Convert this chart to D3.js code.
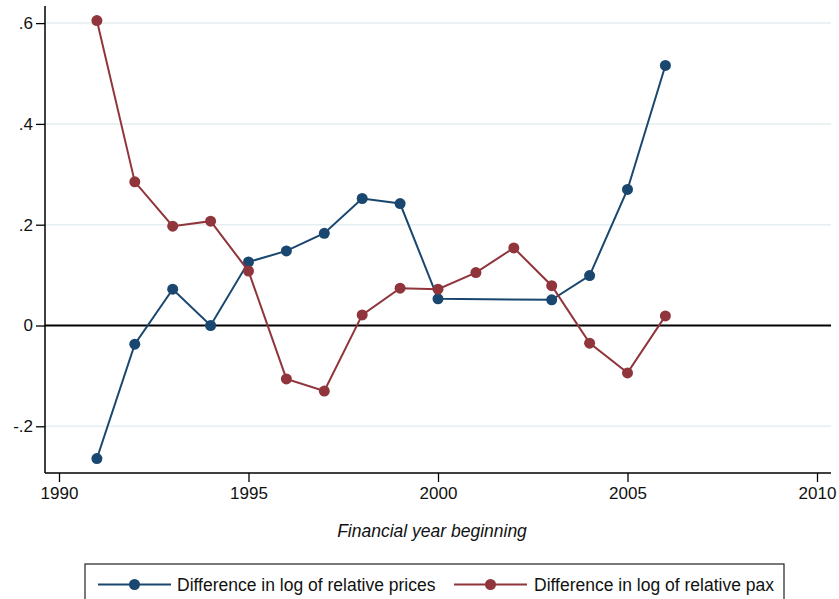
<!DOCTYPE html>
<html>
<head>
<meta charset="utf-8">
<script src="https://cdn.jsdelivr.net/npm/d3@7"></script>
<style>
  html, body { margin: 0; padding: 0; background: #fff; }
  svg { display: block; font-family: Arial, "Liberation Sans", sans-serif; }
</style>
</head>
<body>
<svg id="chart" width="839" height="599"></svg>
<script>
// Financial years and the two series (null = no observation)
const years = [1991, 1992, 1993, 1994, 1995, 1996, 1997, 1998, 1999, 2000, 2001, 2002, 2003, 2004, 2005, 2006];
const priceDiff = [-0.264, -0.037, 0.072, 0.000, 0.126, 0.148, 0.183, 0.252, 0.242, 0.053, null, null, 0.051, 0.099, 0.270, 0.516];
const paxDiff = [0.605, 0.285, 0.197, 0.207, 0.108, -0.106, -0.130, 0.021, 0.074, 0.072, 0.105, 0.154, 0.079, -0.035, -0.094, 0.019];

const xTicks = [1990, 1995, 2000, 2005, 2010];
const yTicks = [-0.2, 0, 0.2, 0.4, 0.6];
const yTickLabels = ["-.2", "0", ".2", ".4", ".6"];

const seriesNames = ["Difference in log of relative prices", "Difference in log of relative pax"];
const seriesColors = ["#1a476f", "#90353b"];

const FONT = "Arial, 'Liberation Sans', sans-serif";
const svg = d3.select("#chart");

const plot = { left: 45, right: 831, top: 6, bottom: 473 };

const x = d3.scaleLinear().domain([1990, 2010]).range([59, 817]);
const y = d3.scaleLinear().domain([0, 0.6]).range([325.5, 23.1]);

// Gridlines
svg.append("g")
  .selectAll("line")
  .data(yTicks.filter(v => v !== 0))
  .join("line")
  .attr("x1", plot.left).attr("x2", plot.right)
  .attr("y1", d => y(d)).attr("y2", d => y(d))
  .attr("stroke", "#e6eef1").attr("stroke-width", 1.5);

// Y axis
const yAxis = d3.axisLeft(y)
  .tickValues(yTicks)
  .tickFormat((d, i) => yTickLabels[i])
  .tickSize(9)
  .tickPadding(3);
const gy = svg.append("g").attr("transform", `translate(${plot.left},0)`).call(yAxis);
gy.attr("font-size", null).attr("font-family", null);
gy.select(".domain").remove();
gy.append("line").attr("x1", 0).attr("x2", 0).attr("y1", plot.top).attr("y2", plot.bottom)
  .attr("stroke", "#000").attr("stroke-width", 1.5);
gy.selectAll(".tick line").attr("stroke", "#000").attr("stroke-width", 1.3);
gy.selectAll(".tick text")
  .style("font-size", "17px").style("font-family", FONT).attr("fill", "#111");

// X axis
const xAxis = d3.axisBottom(x)
  .tickValues(xTicks)
  .tickFormat(d3.format("d"))
  .tickSize(9)
  .tickPadding(5);
const gx = svg.append("g").attr("transform", `translate(0,${plot.bottom})`).call(xAxis);
gx.attr("font-size", null).attr("font-family", null);
gx.select(".domain").remove();
gx.append("line").attr("x1", plot.left).attr("x2", plot.right).attr("y1", 0).attr("y2", 0)
  .attr("stroke", "#000").attr("stroke-width", 1.5);
gx.selectAll(".tick line").attr("stroke", "#000").attr("stroke-width", 1.3);
gx.selectAll(".tick text")
  .style("font-size", "17px").style("font-family", FONT).attr("fill", "#111");

// Axis title
svg.append("text")
  .attr("x", 432).attr("y", 537)
  .attr("text-anchor", "middle")
  .style("font-size", "17.5px").style("font-style", "italic").attr("fill", "#111")
  .text("Financial year beginning");

// Zero reference line
svg.append("line")
  .attr("x1", plot.left).attr("x2", plot.right)
  .attr("y1", y(0)).attr("y2", y(0))
  .attr("stroke", "#000").attr("stroke-width", 2.2);

// Series
const series = [priceDiff, paxDiff].map((vals, i) => ({
  name: seriesNames[i],
  color: seriesColors[i],
  points: years.map((yr, j) => ({ year: yr, value: vals[j] })).filter(p => p.value !== null)
}));

const line = d3.line().x(d => x(d.year)).y(d => y(d.value));

series.forEach(s => {
  const g = svg.append("g");
  g.append("path")
    .attr("d", line(s.points))
    .attr("fill", "none")
    .attr("stroke", s.color)
    .attr("stroke-width", 2);
  g.selectAll("circle")
    .data(s.points)
    .join("circle")
    .attr("cx", d => x(d.year)).attr("cy", d => y(d.value))
    .attr("r", 5.5)
    .attr("fill", s.color);
});

// Legend
const legend = svg.append("g");
legend.append("rect")
  .attr("x", 85).attr("y", 564).attr("width", 699).attr("height", 44)
  .attr("fill", "#fff").attr("stroke", "#222").attr("stroke-width", 1.2);

const legendItems = [
  { x0: 98, x1: 171, tx: 177 },
  { x0: 454, x1: 527, tx: 534 }
];
legendItems.forEach((it, i) => {
  const ly = 584.5;
  legend.append("line")
    .attr("x1", it.x0).attr("x2", it.x1).attr("y1", ly).attr("y2", ly)
    .attr("stroke", seriesColors[i]).attr("stroke-width", 2);
  legend.append("circle")
    .attr("cx", (it.x0 + it.x1) / 2).attr("cy", ly).attr("r", 5.5)
    .attr("fill", seriesColors[i]);
  legend.append("text")
    .attr("x", it.tx).attr("y", 590.5)
    .style("font-size", "17.5px").attr("fill", "#111")
    .text(seriesNames[i]);
});
</script>
</body>
</html>
